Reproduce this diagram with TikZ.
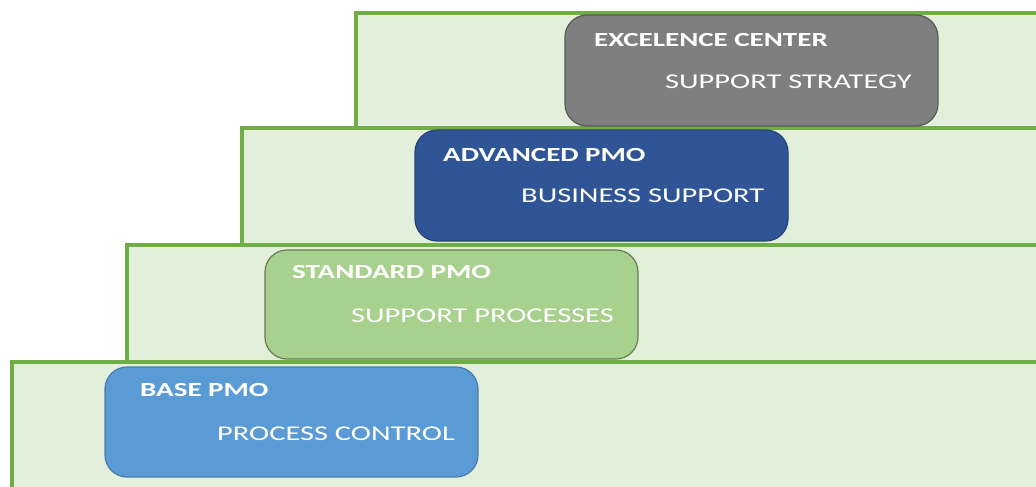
\documentclass[tikz,border=0pt]{standalone}
\usepackage{fontspec}
\setmainfont{Carlito}
\newfontfamily\widefont[FakeStretch=1.45]{Carlito}
\begin{document}
\begin{tikzpicture}[x=1pt,y=-1pt,
  stepframe/.style={draw=frameg,fill=framef,line width=3.5pt},
  levelbox/.style={rounded corners=22pt,line width=1.2pt},
  ttl/.style={anchor=west,text=white,font=\widefont\fontsize{20}{22}\selectfont\bfseries,inner sep=0pt},
  sub/.style={anchor=west,text=white,font=\widefont\fontsize{21}{23}\selectfont,inner sep=0pt}]
\definecolor{frameg}{HTML}{70AD47}
\definecolor{framef}{HTML}{E2EFDA}
\definecolor{grayb}{HTML}{7F7F7F}
\definecolor{navyb}{HTML}{2F5597}
\definecolor{lgreenb}{HTML}{A9D18E}
\definecolor{blueb}{HTML}{5B9BD5}
\useasboundingbox (0,0) rectangle (1036,487);
\clip (0,0) rectangle (1036,487);
\fill[white] (0,0) rectangle (1036,487);
\draw[stepframe] (356,13) rectangle (1050,128);
\draw[stepframe] (242,128) rectangle (1050,245);
\draw[stepframe] (127,245) rectangle (1050,362);
\draw[stepframe] (12,362) rectangle (1050,500);
% boxes
\draw[levelbox,fill=grayb,draw=grayb!70!black] (565,15) rectangle (938,126);
\draw[levelbox,fill=navyb,draw=navyb!80!black] (415,130) rectangle (788,241);
\draw[levelbox,fill=lgreenb,draw=lgreenb!60!black] (265,250) rectangle (638,359);
\draw[levelbox,fill=blueb,draw=blueb!80!black] (105,367) rectangle (478,477);
% texts
\node[ttl] (t1) at (594,40) {EXCELENCE CENTER};
\node[sub] (s1) at (665,82) {SUPPORT STRATEGY};
\node[ttl] (t2) at (443,155) {ADVANCED PMO};
\node[sub] (s2) at (521,196) {BUSINESS SUPPORT};
\node[ttl] (t3) at (292,272) {STANDARD PMO};
\node[sub] (s3) at (351,316) {SUPPORT PROCESSES};
\node[ttl] (t4) at (140,390) {BASE PMO};
\node[sub] (s4) at (217,434) {PROCESS CONTROL};
\end{tikzpicture}
\end{document}
